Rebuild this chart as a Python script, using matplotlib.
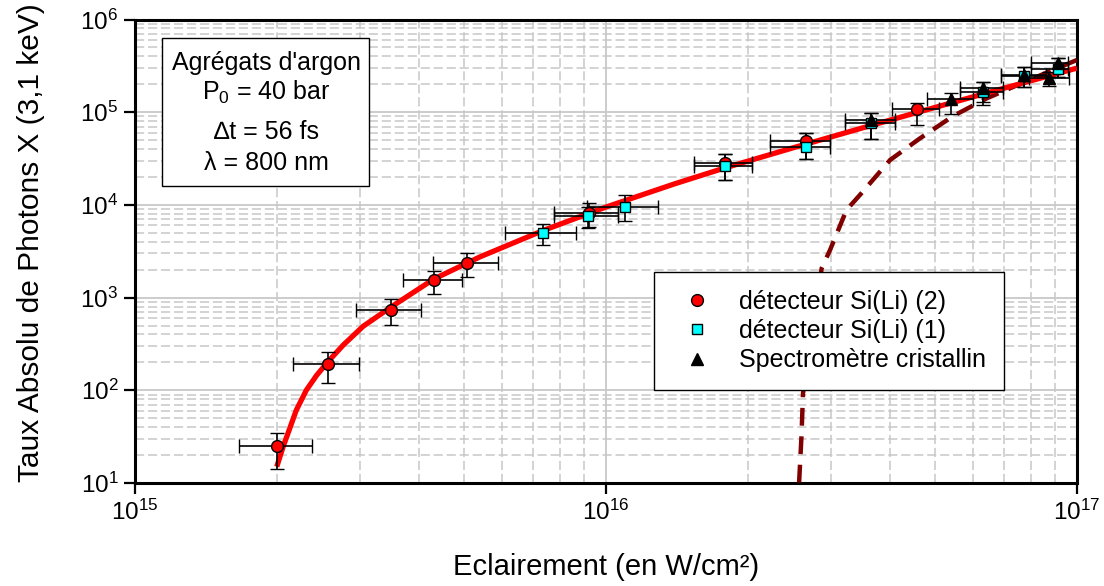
import matplotlib
matplotlib.use("Agg")
import matplotlib.pyplot as plt
from matplotlib.ticker import LogLocator, NullFormatter
from matplotlib.patches import Rectangle
from matplotlib.lines import Line2D

plt.rcParams['font.family'] = ['Liberation Sans', 'DejaVu Sans']
plt.rcParams['mathtext.fontset'] = 'custom'
plt.rcParams['mathtext.rm'] = 'Liberation Sans'
plt.rcParams['mathtext.it'] = 'Liberation Sans:italic'
plt.rcParams['mathtext.bf'] = 'Liberation Sans:bold'

# ---- data: détecteur Si(Li) (2) (red circles)
det2_x = [2.0e15, 2.57e15, 3.5e15, 4.31e15, 5.06e15, 9.2e15, 1.79e16, 2.66e16, 4.57e16]
det2_y = [25, 190, 735, 1550, 2345, 8200, 28500, 49300, 107000]
det2_ylo = [14, 121, 506, 1094, 1680, 5800, 18600, 30900, 72000]
det2_yhi = [35, 257, 955, 1950, 3000, 10500, 35500, 59100, 126000]
det2_xlo = [1.666e15, 2.16e15, 2.94e15, 3.70e15, 4.3e15, 7.76e15, 1.54e16, 2.23e16, 4.05e16]
det2_xhi = [2.38e15, 2.99e15, 4.05e15, 4.95e15, 5.9e15, 1.06e16, 2.04e16, 2.99e16, 5.1e16]

# ---- détecteur Si(Li) (1) (cyan squares)
det1_x = [7.36e15, 9.18e15, 1.10e16, 1.79e16, 2.66e16, 3.66e16, 6.31e16, 7.7e16, 9.12e16]
det1_y = [5010, 7590, 9550, 26300, 42500, 75900, 166000, 245000, 290000]
det1_ylo = [3660, 5600, 6760, 18600, 30900, 51000, 120000, 185000, 242000]
det1_yhi = [6220, 9420, 12800, 35500, 59100, 97000, 213000, 305000, 387000]
det1_xlo = [6.1e15, 7.76e15, 9.1e15, 1.54e16, 2.23e16, 3.21e16, 5.65e16, 6.9e16, 8.0e16]
det1_xhi = [8.63e15, 1.06e16, 1.29e16, 2.04e16, 2.99e16, 4.11e16, 6.97e16, 8.6e16, 9.55e16]

# ---- Spectromètre cristallin (black triangles)
spec_x = [3.66e16, 5.4e16, 6.31e16, 7.7e16, 8.73e16, 9.12e16]
spec_y = [82400, 138000, 181000, 250000, 232000, 336000]
spec_ylo = [51000, 95500, 130000, 185000, 191000, 242000]
spec_yhi = [97000, 160000, 213000, 305000, 274000, 387000]
spec_xlo = [3.21e16, 4.8e16, 5.65e16, 6.9e16, 7.9e16, 8.0e16]
spec_xhi = [4.11e16, 6.0e16, 6.97e16, 8.6e16, 9.6e16, 9.55e16]

# ---- fit curves
fit_x = [2.0e15, 2.065e15, 2.10e15, 2.2e15, 2.31e15, 2.43e15, 2.57e15, 2.77e15, 3.05e15,
         3.5e15, 4.31e15, 5.4e15, 7.36e15, 1.0e16, 1.4e16, 1.79e16, 2.5e16, 3.5e16,
         5.0e16, 7.0e16, 1.0e17]
fit_y = [15, 25, 31.6, 61, 100, 145, 204, 309, 490, 794, 1585, 2750, 5300, 9480,
         16900, 25100, 41400, 67600, 112700, 181600, 299000]

dash_x = [2.555e16, 2.57e16, 2.60e16, 2.62e16, 2.87e16, 2.99e16, 3.24e16, 3.46e16, 4.01e16,
          4.64e16, 5.46e16, 6.43e16, 8.07e16, 1.0e17]
dash_y = [5, 10, 31.6, 93, 2070, 3260, 8810, 12800, 30500, 52200, 91000, 141000, 232000, 366000]

x_ticks = [1e15, 1e16, 1e17]
y_ticks = [1e1, 1e2, 1e3, 1e4, 1e5, 1e6]

W, H = 1104, 586
fig = plt.figure(figsize=(W / 100, H / 100), dpi=100)
ax = fig.add_axes([135 / W, 1 - 483 / H, (1077 - 135) / W, (483 - 19.5) / H])
ax.set_xscale('log')
ax.set_yscale('log')
ax.set_xlim(1e15, 1e17)
ax.set_ylim(1e1, 1e6)

# grid
ax.xaxis.set_minor_locator(LogLocator(base=10, subs=[2, 3, 4, 5, 6, 7, 8, 9]))
ax.yaxis.set_minor_locator(LogLocator(base=10, subs=[2, 3, 4, 5, 6, 7, 8, 9]))
ax.xaxis.set_minor_formatter(NullFormatter())
ax.yaxis.set_minor_formatter(NullFormatter())
ax.grid(which='major', color='#c8c8c8', linewidth=1.3, linestyle='-', zorder=0)
ax.grid(which='minor', color='#c8c8c8', linewidth=1.1, linestyle=(0, (6, 2.5)), zorder=0)
ax.set_axisbelow(True)
ax.tick_params(which='minor', length=0)
ax.tick_params(which='major', direction='out', length=8, width=1.6, labelsize=17.5,
               color='black', pad=4)
ax.set_xticks(x_ticks)
ax.set_yticks(y_ticks)
for s in ax.spines.values():
    s.set_linewidth(2.2)
    s.set_color('black')

# curves
ax.plot(dash_x, dash_y, color='#800000', linewidth=3.2, linestyle=(0, (4, 2.4)), zorder=3)
ax.plot(fit_x, fit_y, color='#ff0000', linewidth=3.8, zorder=4, solid_capstyle='butt',
        solid_joinstyle='round')

ekw = dict(ecolor='black', elinewidth=1.2, capsize=4.7, capthick=1.2, linestyle='none', zorder=5)

def err(v, lo, hi):
    return [[a - b for a, b in zip(v, lo)], [b - a for a, b in zip(v, hi)]]

ax.errorbar(det2_x, det2_y, xerr=err(det2_x, det2_xlo, det2_xhi), yerr=err(det2_y, det2_ylo, det2_yhi),
            marker='o', markersize=8.5, markerfacecolor='#ff0000', markeredgecolor='black',
            markeredgewidth=1.0, **ekw)
ax.errorbar(det1_x, det1_y, xerr=err(det1_x, det1_xlo, det1_xhi), yerr=err(det1_y, det1_ylo, det1_yhi),
            marker='s', markersize=6.5, markerfacecolor='#00ffff', markeredgecolor='black',
            markeredgewidth=1.0, **ekw)
ax.errorbar(spec_x, spec_y, xerr=err(spec_x, spec_xlo, spec_xhi), yerr=err(spec_y, spec_ylo, spec_yhi),
            marker='^', markersize=8, markerfacecolor='black', markeredgecolor='black',
            markeredgewidth=1.0, **ekw)

# legend (markers only)
handles = [
    Line2D([], [], linestyle='none', marker='o', markersize=8.5, markerfacecolor='#ff0000',
           markeredgecolor='black', markeredgewidth=1.0),
    Line2D([], [], linestyle='none', marker='s', markersize=6.5, markerfacecolor='#00ffff',
           markeredgecolor='black', markeredgewidth=1.0),
    Line2D([], [], linestyle='none', marker='^', markersize=8, markerfacecolor='black',
           markeredgecolor='black'),
]
labels = ['détecteur Si(Li) (2)', 'détecteur Si(Li) (1)', 'Spectromètre cristallin']
leg = ax.legend(handles, labels, loc='upper left',
                bbox_to_anchor=((654 - 135) / (1077 - 135), 1 - (272 - 19.5) / (483 - 19.5)),
                fontsize=18, frameon=True, fancybox=False, framealpha=1, edgecolor='black',
                borderpad=0.7, labelspacing=0.22, handletextpad=0.7, handlelength=2.0,
                borderaxespad=0)
leg.get_frame().set_linewidth(1.0)
leg.set_zorder(10)

ax.set_xlabel('Eclairement (en W/cm²)', fontsize=21, labelpad=20)
ax.set_ylabel('Taux Absolu de Photons X (3,1 keV)', fontsize=21.5)
ax.yaxis.set_label_coords((45 - 135) / 942, (483 - 243) / 463.5)

# annotation box
fig.patches.append(Rectangle((162 / W, 1 - 186 / H), (369 - 162) / W, (186 - 38) / H,
                             transform=fig.transFigure, facecolor='white', edgecolor='black',
                             linewidth=1.0, zorder=20))
cx = 266 / W
for txt, yy in [("Agrégats d'argon", 63), (r"P$_0$ = 40 bar", 92), ("∆t = 56 fs", 132), ("λ = 800 nm", 163)]:
    fig.text(cx, 1 - yy / H, txt, ha='center', va='center', fontsize=18, zorder=21)

fig.savefig('out.png', dpi=100)
